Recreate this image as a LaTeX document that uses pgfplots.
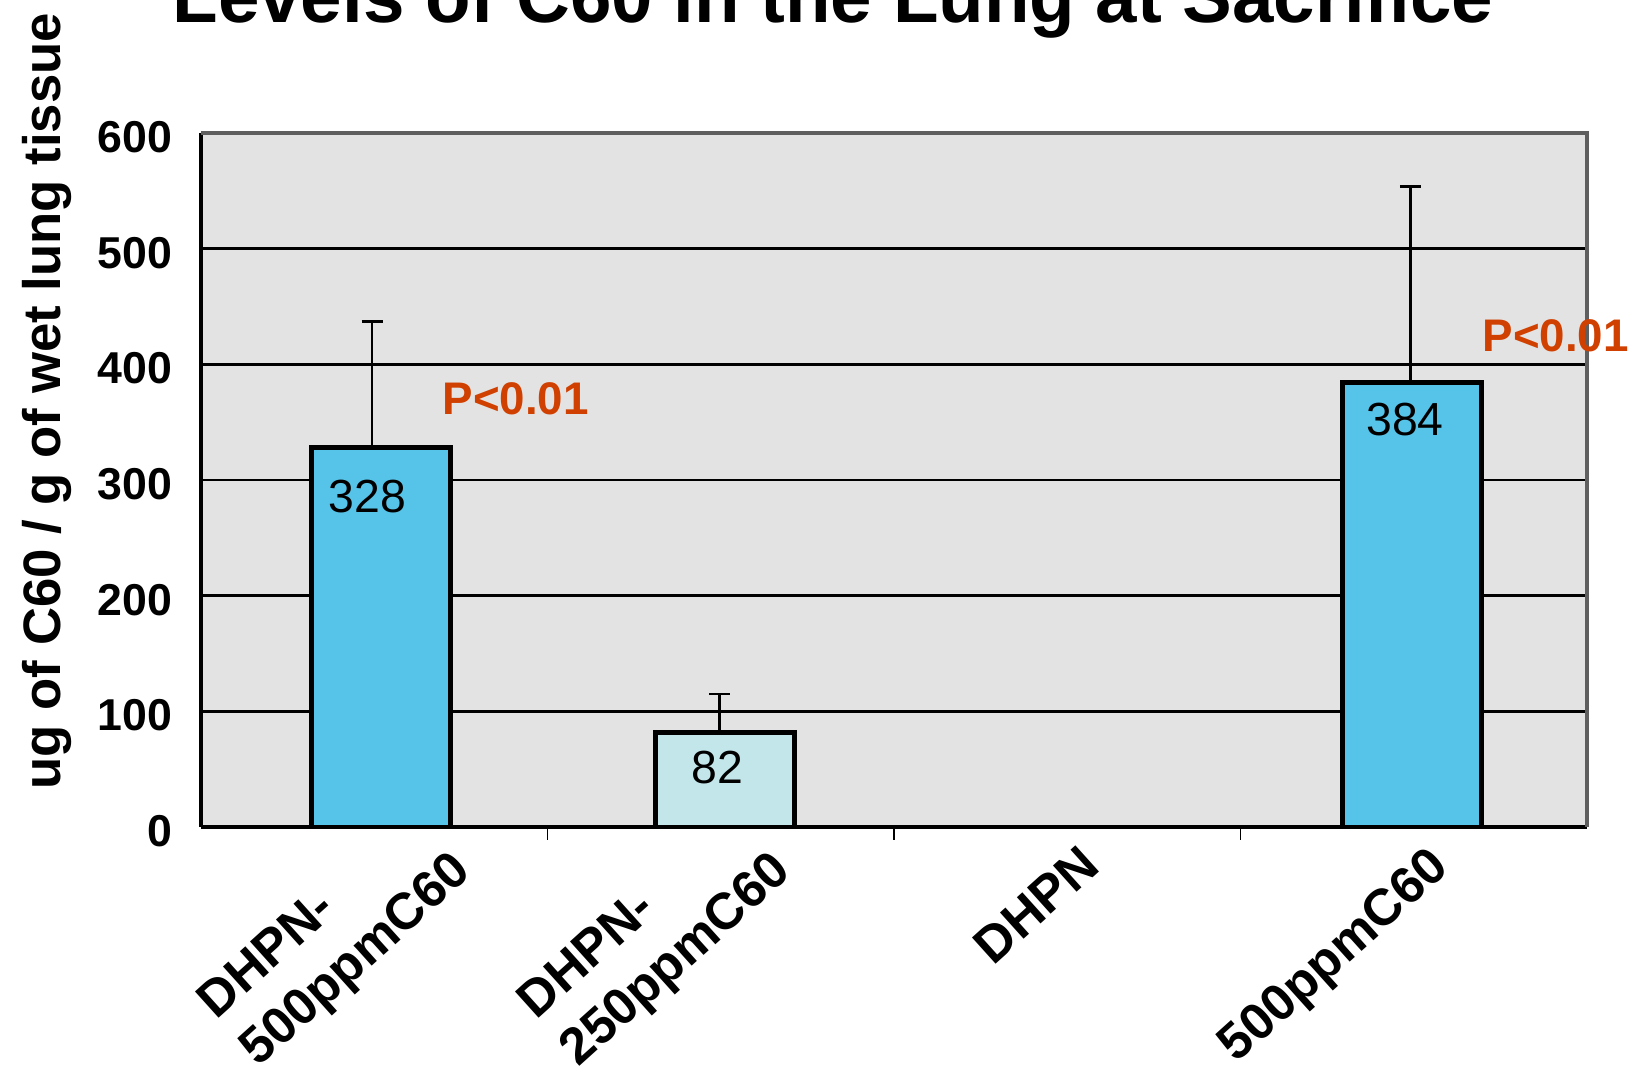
\documentclass[border=0pt]{standalone}
\usepackage{pgfplots}
\pgfplotsset{compat=1.18}
\usepackage{fontspec}
\setmainfont{Liberation Sans}
\usetikzlibrary{calc}
\definecolor{bgc}{RGB}{227,227,227}
\definecolor{barA}{RGB}{86,195,232}
\definecolor{barB}{RGB}{195,230,234}
\definecolor{pcol}{RGB}{208,64,0}
\definecolor{bord}{RGB}{95,95,95}
\newcommand\xl{\fontsize{14.6}{17}\selectfont\bfseries}
\begin{document}
\begin{tikzpicture}
\begin{axis}[
  at={(2.01cm,2.39cm)}, anchor=south west,
  scale only axis, width=13.86cm, height=6.94cm,
  xmin=-0.5, xmax=3.5, ymin=0, ymax=600,
  axis background/.style={fill=bgc},
  axis x line*=bottom, axis y line*=left,
  axis line style={line width=1.4pt, black, -},
  xtick={0.5,1.5,2.5}, xticklabels={},
  ytick={0,100,...,600},
  tick align=inside,
  major tick length=0.13cm,
  xtick style={line width=0.5pt, black},
  ytick style={line width=0.8pt, black},
  ymajorgrids, grid style={line width=0.7pt, black},
  yticklabel style={font=\fontsize{12.7}{14}\selectfont\bfseries, inner sep=0pt, xshift=-0.28cm, yshift=-0.04cm},
  /pgf/number format/assume math mode=true,
  clip=false,
  ybar, bar width=1.39cm,
]
% bars
\addplot[bar shift=0pt, fill=barA, draw=black, line width=1.4pt]
  coordinates {(0.02,328) (2.995,384)};
\addplot[bar shift=0pt, fill=barB, draw=black, line width=1.4pt]
  coordinates {(1.012,82)};
% error bars (upper only)
\addplot[bar shift=0pt, draw=none, fill=none,
  error bars/.cd, y dir=plus, y explicit,
  error bar style={draw=black, line width=0.75pt},
  error mark options={draw=black, line width=0.75pt, mark size=1.05mm, rotate=90}]
  coordinates {(-0.006,328) +- (0,109) (0.997,82) +- (0,33) (2.99,384) +- (0,170)};
\draw[bord, line width=1.3pt] (rel axis cs:0,1) -- (rel axis cs:1,1) -- (rel axis cs:1,0);
\node[font=\fontsize{13.2}{15}\selectfont] at (axis cs:-0.02,286) {328};
\node[font=\fontsize{13.2}{15}\selectfont] at (axis cs:0.99,51) {82};
\node[font=\fontsize{13.2}{15}\selectfont] at (axis cs:2.975,352) {384};
\end{axis}
% title (cut at top as in reference)
\node[anchor=base, inner sep=0pt, font=\fontsize{21.2}{25}\selectfont\bfseries] at (8.33,10.43) {Levels of C60 in the Lung at Sacrifice};
% y label
\node[rotate=90, anchor=base west, inner sep=0pt, font=\fontsize{15}{18}\selectfont\bfseries] at (0.60,2.76) {ug of C60 / g of wet lung tissue};
% p values
\node[anchor=base west, inner sep=0pt, text=pcol, font=\fontsize{13}{15}\selectfont\bfseries] at (4.42,6.51) {P<0.01};
\node[anchor=base west, inner sep=0pt, text=pcol, font=\fontsize{13}{15}\selectfont\bfseries] at (14.82,7.14) {P<0.01};
% category labels
\node[rotate=42, anchor=north east, inner sep=0pt, font=\xl] (a2) at (4.49,2.19) {500ppmC60};
\node[rotate=42, anchor=base west, inner sep=0pt, font=\xl] at ($(a2.base west)!0.63cm!90:(a2.base east)$) {DHPN-};
\node[rotate=42, anchor=north east, inner sep=0pt, font=\xl] (b2) at (7.69,2.19) {250ppmC60};
\node[rotate=42, anchor=base west, inner sep=0pt, font=\xl] at ($(b2.base west)!0.63cm!90:(b2.base east)$) {DHPN-};
\node[rotate=42, anchor=north east, inner sep=0pt, font=\xl] at (10.78,2.24) {DHPN};
\node[rotate=42, anchor=north east, inner sep=0pt, font=\xl] at (14.27,2.23) {500ppmC60};
\pgfresetboundingbox
\path[use as bounding box] (0,0) rectangle (16.43,10.66);
\end{tikzpicture}
\end{document}
